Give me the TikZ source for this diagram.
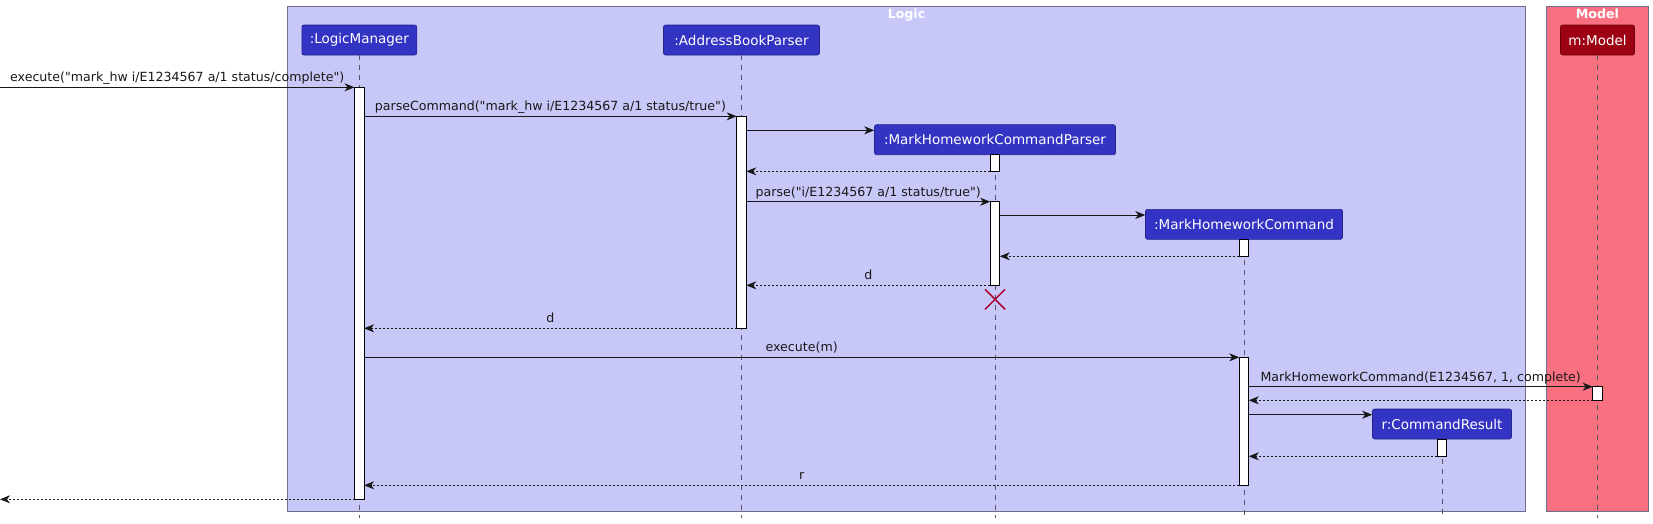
\documentclass[tikz,border=0pt]{standalone}
\usepackage{fontspec}
\setmainfont{DejaVu Sans}[Ligatures=TeXReset]
\usetikzlibrary{arrows.meta}
\definecolor{logicbg}{HTML}{C8C8F8}
\definecolor{modelbg}{HTML}{F97181}
\definecolor{logicpt}{HTML}{3333C4}
\definecolor{modelpt}{HTML}{9D0012}
\definecolor{grpline}{HTML}{6E6E8C}
\definecolor{lifeclr}{HTML}{555566}
\definecolor{xclr}{HTML}{A80036}
\definecolor{txt}{HTML}{181818}
\tikzset{
 part/.style={draw=#1!70!black, fill=#1, rounded corners=2pt, text=white, font=\fontsize{13.5}{16}\selectfont, minimum height=30pt, inner sep=0pt, line width=0.6pt},
 act/.style={draw=black, fill=white, minimum width=9.6pt, inner sep=0pt, outer sep=0pt, line width=0.9pt},
 msg/.style={draw=txt, line width=0.9pt, -{Stealth[length=10pt,width=8pt,inset=3pt]}},
 ret/.style={msg, dash pattern=on 2pt off 2pt},
 life/.style={draw=lifeclr, line width=0.7pt, dash pattern=on 5pt off 5pt},
 lbl/.style={font=\fontsize{12.6}{15}\selectfont, text=txt, anchor=base, inner sep=0pt},
 grp/.style={draw=grpline, line width=0.8pt},
 grplbl/.style={font=\bfseries\fontsize{12.6}{15}\selectfont, text=white, anchor=base, inner sep=0pt},
}
\newcommand{\actbar}[4]{\node[act, minimum height={#4pt-#3pt}] (#1) at (#2,{(#3+#4)/2}) {};}
\begin{document}
\begin{tikzpicture}[x=1pt,y=-1pt]
\useasboundingbox (0,0) rectangle (1653,523);
% groups
\filldraw[grp, fill=logicbg] (287.5,6) rectangle (1525.5,511.7);
\filldraw[grp, fill=modelbg] (1546.3,6) rectangle (1648.6,511.7);
\node[grplbl] (logiclbl) at (906.5,18) {Logic};
\node[grplbl] (modellbl) at (1597.4,18) {Model};
% participants
\node[part=logicpt, minimum width=115pt] (lm) at (359.3,40) {:LogicManager};
\node[part=logicpt, minimum width=156pt] (abp) at (741.5,40) {:AddressBookParser};
\node[part=logicpt, minimum width=241pt] (mhcp) at (995,139.7) {:MarkHomeworkCommandParser};
\node[part=logicpt, minimum width=197pt] (mhc) at (1244,224.3) {:MarkHomeworkCommand};
\node[part=logicpt, minimum width=139pt] (cr) at (1442,424) {r:CommandResult};
\node[part=modelpt, minimum width=74pt] (mm) at (1597.5,40) {m:Model};
% lifelines
\foreach \p in {lm,abp,mhcp,mhc,cr,mm}{
  \draw[life] (\p.south) -- (\p.south |- 0,518);
}
% activations
\actbar{lmA}{359.3}{87.3}{499.3}
\actbar{abpA}{741.5}{116.3}{328.3}
\actbar{mhcpA}{995}{154.3}{171.3}
\actbar{mhcpB}{995}{201.7}{285.3}
\actbar{mhcA}{1244}{239.3}{256.3}
\actbar{mhcB}{1244}{357.3}{485.3}
\actbar{mA}{1597.5}{386.7}{400.3}
\actbar{crA}{1442}{439.3}{456.3}
% messages
\coordinate (src) at (0,87.3);
\coordinate (dst) at (0,499.3);
\draw[msg] (src) -- (lmA.north west) node[midway, lbl, yshift=5.5pt] {execute("mark\_hw i/E1234567 a/1 status/complete")};
\draw[msg] (lmA.east |- abpA.north) -- (abpA.north west) node[midway, lbl, yshift=5.5pt] {parseCommand("mark\_hw i/E1234567 a/1 status/true")};
\draw[msg] (abpA.east |- 0,130.3) -- (mhcp.west |- 0,130.3);
\draw[ret] (mhcpA.south west) -- (abpA.east |- mhcpA.south);
\draw[msg] (abpA.east |- mhcpB.north) -- (mhcpB.north west) node[midway, lbl, yshift=5.5pt] {parse("i/E1234567 a/1 status/true")};
\draw[msg] (mhcpB.east |- 0,215) -- (mhc.west |- 0,215);
\draw[ret] (mhcA.south west) -- (mhcpB.east |- mhcA.south);
\draw[ret] (mhcpB.south west) -- (abpA.east |- mhcpB.south) node[midway, lbl, yshift=5.5pt] {d};
\coordinate (xd) at (995,299.3);
\draw[xclr, line width=1.5pt] (xd) ++(-10,-10) -- ++(20,20) (xd) ++(-10,10) -- ++(20,-20);
\draw[ret] (abpA.south west) -- (lmA.east |- abpA.south) node[midway, lbl, yshift=5.5pt] {d};
\draw[msg] (lmA.east |- mhcB.north) -- (mhcB.north west) node[midway, lbl, yshift=5.5pt] {execute(m)};
\draw[msg] (mhcB.east |- mA.north) -- (mA.north west) node[midway, lbl, yshift=5.5pt] {MarkHomeworkCommand(E1234567, 1, complete)};
\draw[ret] (mA.south west) -- (mhcB.east |- mA.south);
\draw[msg] (mhcB.east |- 0,414.7) -- (cr.west |- 0,414.7);
\draw[ret] (crA.south west) -- (mhcB.east |- crA.south);
\draw[ret] (mhcB.south west) -- (lmA.east |- mhcB.south) node[midway, lbl, yshift=5.5pt] {r};
\draw[ret] (lmA.south west) -- (dst);
\end{tikzpicture}
\end{document}
